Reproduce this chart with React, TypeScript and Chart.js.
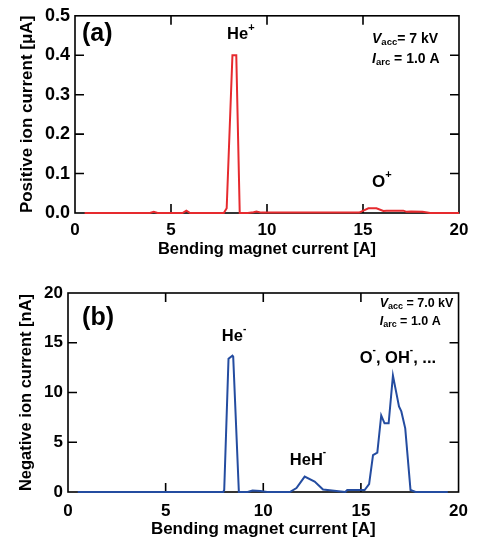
import React, { useEffect, useRef } from 'react';
import { Chart, registerables } from 'chart.js';

Chart.register(...registerables);

// ---- Data ----
const posCurrentA = [0.5, 3.9, 4.1, 4.3, 5.6, 5.8, 6.0, 7.75, 7.9, 8.2, 8.4, 8.58, 9.0, 9.3, 9.45, 9.7, 14.8, 15.28, 15.7, 16.06, 16.23, 17.1, 17.27, 17.5, 18.1, 18.5, 20];
const posIonCurrent = [0, 0, 0.003, 0, 0, 0.006, 0, 0, 0.012, 0.4, 0.4, 0, 0, 0.002, 0.004, 0.001, 0.001, 0.012, 0.012, 0.005, 0.006, 0.006, 0.003, 0.004, 0.003, 0, 0];

const negCurrentA = [0.5, 7.95, 8.0, 8.22, 8.42, 8.46, 8.75, 9.2, 9.45, 9.85, 10.2, 11.36, 11.7, 12.12, 12.63, 13.06, 14.2, 14.3, 15.19, 15.42, 15.62, 15.84, 16.04, 16.21, 16.42, 16.64, 16.95, 17.07, 17.27, 17.54, 17.8, 19.45];
const negIonCurrent = [0, 0, 0.2, 13.4, 13.7, 13.6, 0, 0, 0.15, 0.1, 0, 0, 0.4, 1.55, 1.05, 0.25, 0, 0.2, 0.2, 0.8, 3.7, 3.95, 7.7, 6.9, 6.9, 11.7, 8.6, 8.1, 6.4, 0.2, 0, 0];

const xTickValues = [0, 5, 10, 15, 20];
const posTickValues = [0, 0.1, 0.2, 0.3, 0.4, 0.5];
const negTickValues = [0, 5, 10, 15, 20];

const xTitle = 'Bending magnet current [A]';
const posTitle = 'Positive ion current [\u03bcA]';
const negTitle = 'Negative ion current [nA]';

const FONT = '"Liberation Sans", Arial, Helvetica, sans-serif';

type Seg = { t: string; size: number; italic?: boolean; dy?: number };
type Label = { x: number; y: number; segs: Seg[] };

const posLabels: Label[] = [
  { x: 0.36, y: 0.4525, segs: [{ t: '(a)', size: 25 }] },
  { x: 7.92, y: 0.4525, segs: [{ t: 'He', size: 16.5 }, { t: '+', size: 11, dy: -7 }] },
  { x: 15.47, y: 0.0775, segs: [{ t: 'O', size: 17 }, { t: '+', size: 11, dy: -7 }] },
  { x: 15.47, y: 0.44, segs: [{ t: 'V', size: 14, italic: true }, { t: 'acc', size: 9.5, dy: 3 }, { t: '= 7 kV', size: 14 }] },
  { x: 15.47, y: 0.39, segs: [{ t: 'I', size: 14, italic: true }, { t: 'arc', size: 9.5, dy: 3 }, { t: ' = 1.0 A', size: 14 }] },
];

const negLabels: Label[] = [
  { x: 0.72, y: 17.5, segs: [{ t: '(b)', size: 25 }] },
  { x: 7.88, y: 15.6, segs: [{ t: 'He', size: 16.5 }, { t: '-', size: 10, dy: -8 }] },
  { x: 11.36, y: 3.2, segs: [{ t: 'HeH', size: 16.5 }, { t: '-', size: 10, dy: -8 }] },
  { x: 14.94, y: 13.4, segs: [{ t: 'O', size: 16.5 }, { t: '-', size: 10, dy: -8 }, { t: ', OH', size: 16.5 }, { t: '-', size: 10, dy: -8 }, { t: ', ...', size: 16.5 }] },
  { x: 15.96, y: 18.9, segs: [{ t: 'V', size: 12.5, italic: true }, { t: 'acc', size: 9, dy: 3 }, { t: ' = 7.0 kV', size: 12.5 }] },
  { x: 15.96, y: 17.1, segs: [{ t: 'I', size: 12.5, italic: true }, { t: 'arc', size: 9, dy: 3 }, { t: ' = 1.0 A', size: 12.5 }] },
];

function framePlugin() {
  return {
    id: 'frame',
    beforeDatasetsDraw(chart: any) {
      const { ctx, chartArea, scales } = chart;
      const { left, right, top, bottom } = chartArea;
      const L = 9;
      ctx.save();
      ctx.strokeStyle = '#000';
      ctx.lineWidth = 1.6;
      ctx.strokeRect(left, top, right - left, bottom - top);
      ctx.beginPath();
      scales.x.ticks.forEach((t: any) => {
        const px = scales.x.getPixelForValue(t.value);
        if (px <= left + 1 || px >= right - 1) return;
        ctx.moveTo(px, bottom); ctx.lineTo(px, bottom - L);
        ctx.moveTo(px, top); ctx.lineTo(px, top + L);
      });
      scales.y.ticks.forEach((t: any) => {
        const py = scales.y.getPixelForValue(t.value);
        if (py <= top + 1 || py >= bottom - 1) return;
        ctx.moveTo(left, py); ctx.lineTo(left + L, py);
        ctx.moveTo(right, py); ctx.lineTo(right - L, py);
      });
      ctx.stroke();
      ctx.restore();
    },
  };
}

function labelPlugin(labels: Label[]) {
  return {
    id: 'labels',
    afterDraw(chart: any) {
      const { ctx, scales } = chart;
      ctx.save();
      ctx.fillStyle = '#000';
      ctx.textBaseline = 'middle';
      ctx.textAlign = 'left';
      labels.forEach((lb) => {
        let cx = scales.x.getPixelForValue(lb.x);
        const cy = scales.y.getPixelForValue(lb.y);
        lb.segs.forEach((s) => {
          ctx.font = `${s.italic ? 'italic ' : ''}bold ${s.size}px ${FONT}`;
          ctx.fillText(s.t, cx, cy + (s.dy || 0));
          cx += ctx.measureText(s.t).width;
        });
      });
      ctx.restore();
    },
  };
}

type PanelProps = {
  xs: number[];
  ys: number[];
  color: string;
  yMax: number;
  yDecimals: number;
  yTitle: string;
  labels: Label[];
  height: number;
  padTop: number;
  yAxisWidth: number;
  xAxisHeight: number;
  xTickSize: number;
  yTickSize: number;
  xTitleSize: number;
  yTitleSize: number;
  xTickPad: number;
  xTitlePadBottom: number;
  xTickValuesList: number[];
  yTickValuesList: number[];
};

function Panel(p: PanelProps) {
  const ref = useRef<HTMLCanvasElement | null>(null);
  useEffect(() => {
    if (!ref.current) return;
    const chart = new Chart(ref.current, {
      type: 'line',
      data: {
        datasets: [
          {
            data: p.xs.map((x, i) => ({ x, y: p.ys[i] })),
            borderColor: p.color,
            borderWidth: 2,
            pointRadius: 0,
            tension: 0,
            fill: false,
            clip: 6,
          } as any,
        ],
      },
      options: {
        animation: false,
        responsive: false,
        maintainAspectRatio: false,
        devicePixelRatio: 1,
        layout: { padding: { left: 0, right: 18, top: p.padTop, bottom: 0 } },
        plugins: { legend: { display: false }, tooltip: { enabled: false } },
        scales: {
          x: {
            type: 'linear',
            min: 0,
            max: 20,
            afterBuildTicks: (s: any) => { s.ticks = p.xTickValuesList.map((v) => ({ value: v })); },
            ticks: {
              color: '#000',
              font: { family: FONT, size: p.xTickSize, weight: 'bold' },
              padding: p.xTickPad,
              maxRotation: 0,
              autoSkip: false,
            },
            grid: { display: false, drawTicks: false },
            border: { display: false },
            title: {
              display: true,
              text: xTitle,
              color: '#000',
              font: { family: FONT, size: p.xTitleSize, weight: 'bold' },
              padding: { top: 0, bottom: p.xTitlePadBottom },
            },
            afterFit: (s: any) => { s.height = p.xAxisHeight; },
          },
          y: {
            type: 'linear',
            min: 0,
            max: p.yMax,
            afterBuildTicks: (s: any) => { s.ticks = p.yTickValuesList.map((v) => ({ value: v })); },
            ticks: {
              color: '#000',
              font: { family: FONT, size: p.yTickSize, weight: 'bold' },
              padding: 5,
              autoSkip: false,
              callback: (v: any) => Number(v).toFixed(p.yDecimals),
            },
            grid: { display: false, drawTicks: false },
            border: { display: false },
            title: {
              display: true,
              text: p.yTitle,
              color: '#000',
              font: { family: FONT, size: p.yTitleSize, weight: 'bold' },
              padding: { top: 17, bottom: 0 },
            },
            afterFit: (s: any) => { s.width = p.yAxisWidth; },
          },
        },
      } as any,
      plugins: [framePlugin(), labelPlugin(p.labels)],
    });
    return () => chart.destroy();
  }, []);
  return <canvas ref={ref} width={477} height={p.height} style={{ display: 'block', width: 477, height: p.height }} />;
}

export default function App() {
  return (
    <div style={{ position: 'absolute', left: 0, top: 0, width: 477, height: 543, background: '#fff' }}>
      <Panel
        xs={posCurrentA}
        ys={posIonCurrent}
        color="#e62a2e"
        yMax={0.5}
        yDecimals={1}
        yTitle={posTitle}
        labels={posLabels}
        height={270}
        padTop={13}
        yAxisWidth={75}
        xAxisHeight={57}
        xTickSize={17}
        yTickSize={18}
        xTitleSize={16.5}
        yTitleSize={17}
        xTickPad={7}
        xTitlePadBottom={11}
        xTickValuesList={xTickValues}
        yTickValuesList={posTickValues}
      />
      <Panel
        xs={negCurrentA}
        ys={negIonCurrent}
        color="#244ca0"
        yMax={20}
        yDecimals={0}
        yTitle={negTitle}
        labels={negLabels}
        height={273}
        padTop={23}
        yAxisWidth={68}
        xAxisHeight={51}
        xTickSize={17}
        yTickSize={17}
        xTitleSize={17}
        yTitleSize={16.5}
        xTickPad={9}
        xTitlePadBottom={3}
        xTickValuesList={xTickValues}
        yTickValuesList={negTickValues}
      />
    </div>
  );
}
